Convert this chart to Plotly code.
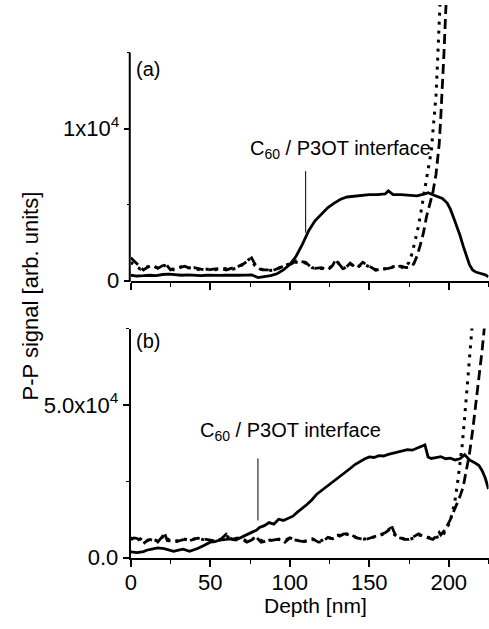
import plotly.graph_objects as go

# ---------------- data ----------------
# Panel (a)
a_solid_depth = [0, 4, 8, 12, 16, 20, 24, 28, 32, 36, 40, 44, 48, 52, 56, 60, 64, 68, 72, 76, 80,
                 84, 88, 92, 96, 100, 104, 108, 112, 116, 120, 124, 128, 132, 136, 140, 145, 150,
                 155, 160, 162, 165, 170, 175, 180, 185, 187, 190, 193, 196, 199, 201, 203, 205,
                 207, 209, 211, 213, 215, 217, 219, 221, 223, 225]
a_solid_signal = [350, 300, 320, 350, 330, 400, 420, 380, 350, 380, 350, 330, 350, 370, 340, 350,
                  330, 350, 360, 380, 200, 250, 330, 450, 700, 1050, 1600, 2400, 3300, 3950, 4400,
                  4800, 5100, 5350, 5500, 5550, 5600, 5650, 5650, 5700, 5900, 5650, 5650, 5600,
                  5580, 5700, 5780, 5650, 5550, 5400, 5100, 4700, 4150, 3600, 3000, 2300, 1600,
                  1050, 700, 560, 500, 450, 380, 250]

a_dash_depth = [0, 2, 4, 6, 8, 11, 14, 17, 20, 22, 25, 28, 31, 34, 37, 40, 44, 48, 52, 56, 60, 64,
                68, 71, 74, 76, 78, 80, 83, 86, 89, 92, 95, 98, 101, 104, 107, 110, 113, 116, 120,
                124, 127, 129, 131, 134, 138, 142, 146, 150, 154, 158, 162, 166, 170, 173, 176,
                178, 180, 182, 184, 186, 188, 190, 192, 194, 195, 196, 197, 198, 199, 200]
a_dash_signal = [1500, 1300, 1100, 850, 700, 900, 1000, 800, 950, 1100, 700, 800, 900, 950, 800,
                 850, 750, 700, 750, 800, 700, 800, 950, 1100, 1350, 1500, 1100, 800, 700, 700, 650,
                 800, 900, 1000, 1100, 1300, 1250, 1200, 900, 800, 850, 700, 1000, 1400, 1100, 700,
                 1150, 800, 1200, 950, 700, 750, 800, 900, 950, 850, 900, 1100, 1600, 2300, 3100,
                 4200, 5000, 5800, 7000, 9000, 10800, 12600, 15000, 17500, 20000, 22000]

a_dot_depth = [0, 3, 6, 9, 12, 15, 18, 21, 24, 27, 30, 33, 36, 40, 44, 48, 52, 56, 60, 64, 68, 72,
               75, 78, 82, 86, 90, 94, 98, 102, 106, 110, 114, 118, 122, 126, 130, 134, 138, 142,
               146, 150, 154, 158, 162, 166, 170, 172, 175, 177, 179, 181, 183, 185, 187, 189,
               190.5, 192, 193, 194, 195, 196]
a_dot_signal = [1200, 1000, 750, 850, 950, 900, 800, 1000, 850, 700, 850, 950, 850, 800, 700, 750,
                700, 750, 800, 750, 850, 1200, 1450, 1000, 750, 650, 700, 850, 1000, 1200, 1200,
                1150, 850, 800, 800, 900, 1200, 800, 1100, 850, 1100, 900, 700, 750, 800, 950, 900,
                800, 1200, 1800, 2700, 3600, 4800, 6200, 7300, 8500, 10200, 12200, 14500, 17500,
                20000, 22000]

# Panel (b)
b_solid_depth = [0, 4, 8, 10, 14, 17, 21, 24, 27, 30, 33, 37, 40, 42, 46, 50, 53, 56, 60, 63, 66,
                 70, 73, 76, 79, 81, 84, 87, 90, 93, 96, 99, 102, 105, 108, 111, 114, 117, 120,
                 123, 126, 129, 132, 135, 138, 141, 144, 147, 150, 153, 156, 159, 162, 165, 168,
                 171, 174, 177, 180, 183, 185, 187, 189, 192, 195, 198, 201, 204, 207, 210, 213,
                 216, 219, 221, 223, 225]
b_solid_signal = [1900, 1700, 2000, 2450, 2900, 3200, 3000, 2600, 2100, 2500, 2800, 2100, 2600,
                  3000, 4000, 5100, 5300, 5800, 6000, 6200, 5800, 6900, 7500, 8300, 9000, 9900,
                  10500, 11500, 11000, 12600, 12200, 13000, 13600, 15000, 16200, 17500, 19000,
                  20800, 22000, 23200, 24300, 25300, 26800, 28000, 29200, 30500, 31500, 32300,
                  33000, 32800, 33400, 33300, 33800, 34200, 34800, 35000, 35400, 35200, 35800,
                  36400, 36900, 33000, 32500, 32800, 33100, 32400, 32600, 32000, 32400, 33700,
                  32000, 31200, 30200, 28500, 26000, 22500]

b_dash_depth = [0, 2, 4, 6, 8, 10, 12, 15, 17, 20, 21, 23, 26, 29, 32, 34, 37, 40, 42, 45, 48, 51,
                54, 57, 60, 62, 64, 67, 70, 73, 76, 79, 82, 85, 88, 91, 94, 97, 100, 103, 106, 109,
                112, 115, 118, 121, 124, 127, 131, 134, 138, 142, 145, 148, 152, 156, 160, 162,
                164, 167, 170, 172, 175, 178, 181, 184, 186, 190, 192, 194, 195, 198, 201, 204,
                207, 209, 211, 213, 215, 217, 219, 221, 222.5, 224]
b_dash_signal = [6000, 6500, 6300, 5500, 4600, 5500, 6000, 5500, 5100, 7000, 8300, 5600, 5500,
                 5300, 5800, 6000, 5600, 6200, 6400, 6200, 6000, 5700, 5300, 6200, 7700, 6500,
                 6000, 6500, 6000, 5100, 5800, 6700, 5100, 5400, 5600, 5900, 6200, 5100, 6500,
                 6000, 5500, 5300, 5700, 6000, 5100, 5300, 6700, 6200, 7000, 7800, 7800, 6500,
                 6200, 6000, 6700, 7300, 8200, 8900, 10500, 6700, 6400, 6000, 6000, 6800, 7800,
                 7000, 6700, 6000, 7000, 8300, 7500, 9400, 12500, 16000, 20000, 23000, 28000,
                 34000, 41500, 50000, 58000, 68000, 76000, 84000]

b_dot_depth = [0, 3, 6, 9, 12, 15, 18, 21, 24, 27, 30, 33, 36, 39, 42, 45, 48, 51, 54, 57, 60, 63,
               66, 69, 72, 75, 78, 81, 84, 87, 90, 93, 96, 99, 102, 105, 108, 111, 114, 117, 120,
               123, 126, 129, 132, 135, 139, 143, 147, 151, 155, 159, 163, 166, 169, 172, 175,
               178, 181, 184, 187, 190, 193, 196, 198, 200, 202, 204, 205.5, 207, 208.5, 210,
               211.5, 213, 214, 215, 216]
b_dot_signal = [6500, 5800, 6200, 5000, 6200, 5800, 5400, 7500, 5800, 5200, 5600, 6200, 5800,
                6000, 6600, 6000, 5800, 5500, 5600, 6000, 7200, 6300, 6200, 6300, 5700, 5600,
                6600, 5800, 5200, 5700, 6000, 6000, 5500, 6200, 6000, 5600, 5400, 5500, 6200,
                5400, 5600, 6500, 6400, 7200, 7500, 7800, 7200, 6400, 6100, 6500, 7000, 7800,
                9500, 7500, 6500, 6200, 6000, 6400, 7400, 7200, 6600, 6200, 6800, 7000, 9000,
                11000, 14000, 19000, 24400, 30000, 37000, 46000, 57000, 67000, 72500, 78000, 84000]

# Tick labels / annotations
x_tickvals = [0, 50, 100, 150, 200]
x_ticktext = ["0", "50", "100", "150", "200"]
a_ytickvals = [0, 10000]
a_yticktext = ["0", "1x10<sup>4</sup>"]
b_ytickvals = [0, 50000]
b_yticktext = ["0.0", "5.0x10<sup>4</sup>"]
interface_label = "C<sub>60</sub> / P3OT interface"
a_interface = dict(depth=110, y0=3150, y1=7200)
b_interface = dict(depth=80, y0=12200, y1=32500)

# ---------------- layout geometry ----------------
W, H = 489, 629
FONT = "Liberation Sans, Arial, sans-serif"
x_dom = [126.3 / W, 488.5 / W]
x_range = [0, 225]
a_dom = [(H - 286.5) / H, (H - 5) / H]
a_range = [0, 18140]
a_axis_top = 15000
b_dom = [(H - 569.5) / H, (H - 335.5) / H]
b_range = [0, 75000]

LW = 2.8
fig = go.Figure()


def add_series(xs, ys, dash, xa, ya, width=LW):
    fig.add_trace(go.Scatter(x=xs, y=ys, mode="lines", xaxis=xa, yaxis=ya,
                             line=dict(color="black", width=width, dash=dash),
                             showlegend=False, hoverinfo="skip"))


add_series(a_solid_depth, a_solid_signal, "solid", "x", "y")
add_series(a_dash_depth, a_dash_signal, "10px,5px", "x", "y")
add_series(a_dot_depth, a_dot_signal, "3px,6px", "x", "y", 3.0)
add_series(b_solid_depth, b_solid_signal, "solid", "x2", "y2")
add_series(b_dash_depth, b_dash_signal, "10px,5px", "x2", "y2")
add_series(b_dot_depth, b_dot_signal, "3px,6px", "x2", "y2", 3.0)

tickfont = dict(family=FONT, size=22, color="black")
common_x = dict(range=x_range, domain=x_dom, showgrid=False, zeroline=False, showline=True,
                linecolor="black", linewidth=2, ticks="outside", ticklen=7, tickwidth=1.5,
                tickcolor="black", tickvals=x_tickvals, ticktext=x_ticktext, tickfont=tickfont,
                minor=dict(ticks="outside", ticklen=4, tickwidth=1.2, tickcolor="black",
                           dtick=25, tick0=0, showgrid=False))

fig.update_layout(
    width=W, height=H, margin=dict(l=0, r=0, t=0, b=0),
    paper_bgcolor="white", plot_bgcolor="white", showlegend=False,
    xaxis=dict(**common_x, anchor="y", showticklabels=False),
    yaxis=dict(range=a_range, domain=a_dom, anchor="x", showgrid=False, zeroline=False,
               showline=False, ticks="outside", ticklen=6, tickwidth=1.5, tickcolor="black",
               tickvals=a_ytickvals, ticktext=a_yticktext, tickfont=tickfont,
               minor=dict(ticks="outside", ticklen=3, tickwidth=1.2, tickcolor="black",
                          dtick=5000, tick0=0, showgrid=False)),
    xaxis2=dict(**common_x, anchor="y2", showticklabels=True, ticklabelstandoff=-3),
    yaxis2=dict(range=b_range, domain=b_dom, anchor="x2", showgrid=False, zeroline=False,
                showline=True, linecolor="black", linewidth=2, ticks="outside", ticklen=6,
                tickwidth=1.5, tickcolor="black", tickvals=b_ytickvals, ticktext=b_yticktext,
                tickfont=tickfont,
                minor=dict(ticks="outside", ticklen=3, tickwidth=1.2, tickcolor="black",
                           dtick=25000, tick0=0, showgrid=False)),
)

# y-axis line of panel (a) only reaches 1.5x10^4 (curves extend above it)
a_top_paper = a_dom[0] + (a_axis_top - a_range[0]) / (a_range[1] - a_range[0]) * (a_dom[1] - a_dom[0])
fig.add_shape(type="line", xref="paper", yref="paper", x0=x_dom[0] - 1 / W, x1=x_dom[0] - 1 / W,
              y0=a_dom[0] - 1 / H, y1=a_top_paper, line=dict(color="black", width=2))

# interface markers
fig.add_shape(type="line", xref="x", yref="y", x0=a_interface["depth"], x1=a_interface["depth"],
              y0=a_interface["y0"], y1=a_interface["y1"], line=dict(color="black", width=1))
fig.add_shape(type="line", xref="x2", yref="y2", x0=b_interface["depth"], x1=b_interface["depth"],
              y0=b_interface["y0"], y1=b_interface["y1"], line=dict(color="black", width=1))

annfont = dict(family=FONT, size=20, color="black")
fig.add_annotation(text=interface_label, xref="paper", yref="paper", x=245 / W, y=(H - 153) / H,
                   xanchor="left", yanchor="middle", showarrow=False, font=annfont)
fig.add_annotation(text=interface_label, xref="paper", yref="paper", x=194 / W, y=(H - 441) / H,
                   xanchor="left", yanchor="middle", showarrow=False, font=annfont)
fig.add_annotation(text="(a)", xref="paper", yref="paper", x=130 / W, y=(H - 70) / H,
                   xanchor="left", yanchor="middle", showarrow=False, font=annfont)
fig.add_annotation(text="(b)", xref="paper", yref="paper", x=130 / W, y=(H - 348) / H,
                   xanchor="left", yanchor="middle", showarrow=False, font=annfont)

titlefont = dict(family=FONT, size=22, color="black")
fig.add_annotation(text="P-P signal [arb. units]", xref="paper", yref="paper", x=25 / W,
                   y=(H - 302) / H, textangle=-90, xanchor="center", yanchor="middle",
                   showarrow=False, font=titlefont)
fig.add_annotation(text="Depth [nm]", xref="paper", yref="paper", x=313 / W, y=(H - 618) / H,
                   xanchor="center", yanchor="middle", showarrow=False,
                   font=dict(family=FONT, size=21, color="black"), borderpad=0)

fig.write_html("out.html")
